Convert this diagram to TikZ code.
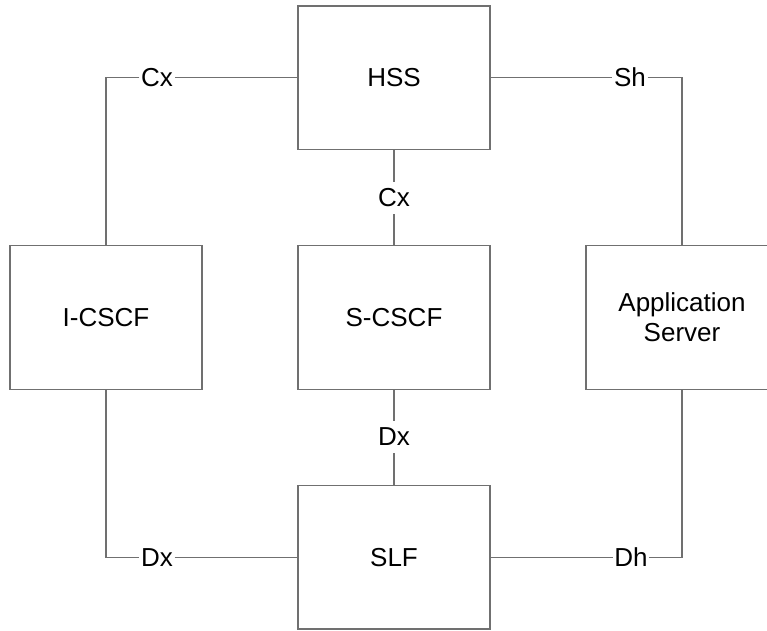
\documentclass[tikz,border=0pt]{standalone}
\usepackage{fontspec}
\setmainfont{Liberation Sans}
\begin{document}
\begin{tikzpicture}[x=1pt,y=-1pt,
  box/.style={draw=linegray, line width=1.3pt, minimum width=192pt, minimum height=143.5pt, inner sep=0pt, align=center, font=\fontsize{26}{30}\selectfont},
  lbl/.style={inner xsep=1.5pt, inner ysep=7pt, font=\fontsize{26}{30}\selectfont},
  conn/.style={draw=linegray, line width=1.3pt}]
\definecolor{linegray}{HTML}{707070}
\useasboundingbox (0,0) rectangle (767,630);
\clip (0,0) rectangle (767,630);
\node[box] (hss) at (394,77.7) {HSS};
\node[box] (icscf) at (106,317.5) {I-CSCF};
\node[box] (scscf) at (394,317.5) {S-CSCF};
\node[box] (as) at (682,317.5) {Application\\Server};
\node[box] (slf) at (394,557.3) {SLF};
\node[lbl] (cx1) at (157,77.7) {Cx};
\node[lbl] (sh) at (630,77.7) {Sh};
\node[lbl] (dx1) at (157,557.3) {Dx};
\node[lbl] (dh) at (631,557.3) {Dh};
\node[lbl] (cx2) at (394,198) {Cx};
\node[lbl] (dx2) at (394,437) {Dx};
\draw[conn] (hss.west) -- (cx1.east);
\draw[conn] (cx1.west) -| (icscf.north);
\draw[conn] (hss.east) -- (sh.west);
\draw[conn] (sh.east) -| (as.north);
\draw[conn] (icscf.south) |- (dx1.west);
\draw[conn] (dx1.east) -- (slf.west);
\draw[conn] (as.south) |- (dh.east);
\draw[conn] (dh.west) -- (slf.east);
\draw[conn] (hss.south) -- (cx2.north);
\draw[conn] (cx2.south) -- (scscf.north);
\draw[conn] (scscf.south) -- (dx2.north);
\draw[conn] (dx2.south) -- (slf.north);
\end{tikzpicture}
\end{document}
